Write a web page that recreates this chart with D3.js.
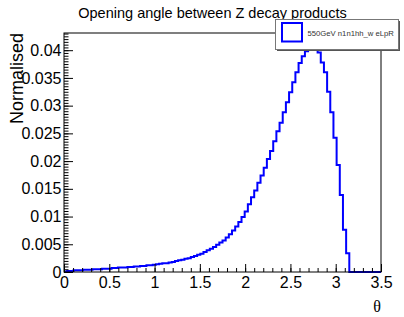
<!DOCTYPE html>
<html>
<head>
<meta charset="utf-8">
<script src="https://cdn.jsdelivr.net/npm/d3@7"></script>
<style>
  body { margin: 0; background: #fff; }
  text { font-family: "Liberation Sans", Arial, Helvetica, sans-serif; }
</style>
</head>
<body>
<div id="chart"></div>
<script>
var titleText = "Opening angle between Z decay products",
    legendText = "550GeV n1n1hh_w eLpR",
    xTitle = "\u03b8",
    yTitle = "Normalised";

// 100 bins from 0 to 3.5
var histRange = [0, 3.5];
var binValues = [
  0.0001, 0.0002, 0.0002, 0.0003, 0.0003, 0.0003, 0.0004, 0.0004, 0.0004, 0.0005,
  0.0005, 0.0005, 0.0006, 0.0006, 0.0006, 0.0007, 0.0007, 0.0008, 0.0008, 0.0008,
  0.0009, 0.0009, 0.0010, 0.0010, 0.0011, 0.0011, 0.0012, 0.0012, 0.0013, 0.0014,
  0.0015, 0.0016, 0.0016, 0.0017, 0.0018, 0.0020, 0.0021, 0.0022, 0.0024, 0.0025,
  0.0027, 0.0029, 0.0031, 0.0033, 0.0036, 0.0039, 0.0042, 0.0045, 0.0049, 0.0053,
  0.0057, 0.0062, 0.0068, 0.0075, 0.0082, 0.0090, 0.0099, 0.0109, 0.0122, 0.0135,
  0.0147, 0.0161, 0.0174, 0.0188, 0.0204, 0.0218, 0.0236, 0.0254, 0.0269, 0.0288,
  0.0306, 0.0324, 0.0342, 0.0360, 0.0377, 0.0389, 0.0398, 0.0408, 0.0420, 0.0414,
  0.0396, 0.0378, 0.0360, 0.0325, 0.0288, 0.0242, 0.0193, 0.0139, 0.0076, 0.0034,
  0, 0, 0, 0, 0, 0, 0, 0, 0, 0
];

var xTicks = [0, 0.5, 1, 1.5, 2, 2.5, 3, 3.5],
    xTickLabels = ["0", "0.5", "1", "1.5", "2", "2.5", "3", "3.5"];
var yTicks = [0, 0.005, 0.01, 0.015, 0.02, 0.025, 0.03, 0.035, 0.04],
    yTickLabels = ["0", "0.005", "0.01", "0.015", "0.02", "0.025", "0.03", "0.035", "0.04"];
var yMax = 0.0431;

var width = 404, height = 317;
var frame = {left: 64, right: 381, top: 33, bottom: 272};

var svg = d3.select("#chart").append("svg")
    .attr("width", width).attr("height", height);

var x = d3.scaleLinear().domain(histRange).range([frame.left, frame.right]);
var y = d3.scaleLinear().domain([0, yMax]).range([frame.bottom, frame.top]);

// histogram outline
var binW = (histRange[1] - histRange[0]) / binValues.length;
var pts = binValues.map(function(v, i) { return [histRange[0] + i * binW, v]; });
pts.push([histRange[1], binValues[binValues.length - 1]]);

var line = d3.line()
    .x(function(d) { return x(d[0]); })
    .y(function(d) { return y(d[1]); })
    .curve(d3.curveStepAfter);

svg.append("path").datum(pts)
    .attr("d", line)
    .attr("fill", "none")
    .attr("stroke", "#0000ff")
    .attr("stroke-width", 2);

// axes, ROOT style: ticks point inside
var xMinor = d3.range(0, 3.5001, 0.1);
svg.append("g").attr("transform", "translate(0," + frame.bottom + ")")
    .call(d3.axisBottom(x).tickValues(xMinor).tickFormat("").tickSize(-4))
    .call(function(g) { g.select(".domain").remove(); });
svg.append("g").attr("transform", "translate(0," + frame.bottom + ")")
    .call(d3.axisBottom(x).tickValues(xTicks)
        .tickFormat(function(d, i) { return xTickLabels[i]; })
        .tickSize(-8).tickPadding(5))
    .call(function(g) {
      g.select(".domain").remove();
      g.selectAll("text").attr("font-size", 16).attr("font-family", null).attr("fill", "#000");
    });

var yMinor = d3.range(0, yMax, 0.0005);
svg.append("g").attr("transform", "translate(" + frame.left + ",0)")
    .call(d3.axisLeft(y).tickValues(yMinor).tickFormat("").tickSize(-4.5))
    .call(function(g) { g.select(".domain").remove(); });
svg.append("g").attr("transform", "translate(" + frame.left + ",0)")
    .call(d3.axisLeft(y).tickValues(yTicks)
        .tickFormat(function(d, i) { return yTickLabels[i]; })
        .tickSize(-9).tickPadding(2.5))
    .call(function(g) {
      g.select(".domain").remove();
      g.selectAll("text").attr("font-size", 16).attr("font-family", null).attr("fill", "#000");
    });

// frame
svg.append("rect")
    .attr("x", frame.left).attr("y", frame.top)
    .attr("width", frame.right - frame.left).attr("height", frame.bottom - frame.top)
    .attr("fill", "none").attr("stroke", "#000").attr("stroke-width", 1);

// titles
svg.append("text").attr("x", 212.5).attr("y", 18)
    .attr("text-anchor", "middle").attr("font-size", 14.5)
    .text(titleText);

svg.append("text").attr("x", 381).attr("y", 312)
    .attr("text-anchor", "end").attr("font-size", 16)
    .style("font-family", "'Liberation Serif', 'Times New Roman', serif")
    .text(xTitle);

svg.append("text")
    .attr("transform", "translate(23,33) rotate(-90)")
    .attr("text-anchor", "end").attr("font-size", 18)
    .text(yTitle);

// legend
var leg = svg.append("g");
leg.append("rect").attr("x", 277).attr("y", 21).attr("width", 123).attr("height", 30)
    .attr("fill", "#555");
leg.append("rect").attr("x", 275.5).attr("y", 19.5).attr("width", 123).attr("height", 30)
    .attr("fill", "#fff").attr("stroke", "#777").attr("stroke-width", 1);
leg.append("rect").attr("x", 282).attr("y", 23).attr("width", 20).attr("height", 18.5)
    .attr("fill", "#fff").attr("stroke", "#0000ff").attr("stroke-width", 2);
leg.append("text").attr("x", 307.5).attr("y", 35.5)
    .attr("font-size", 7.7).attr("fill", "#333")
    .text(legendText);
</script>
</body>
</html>
